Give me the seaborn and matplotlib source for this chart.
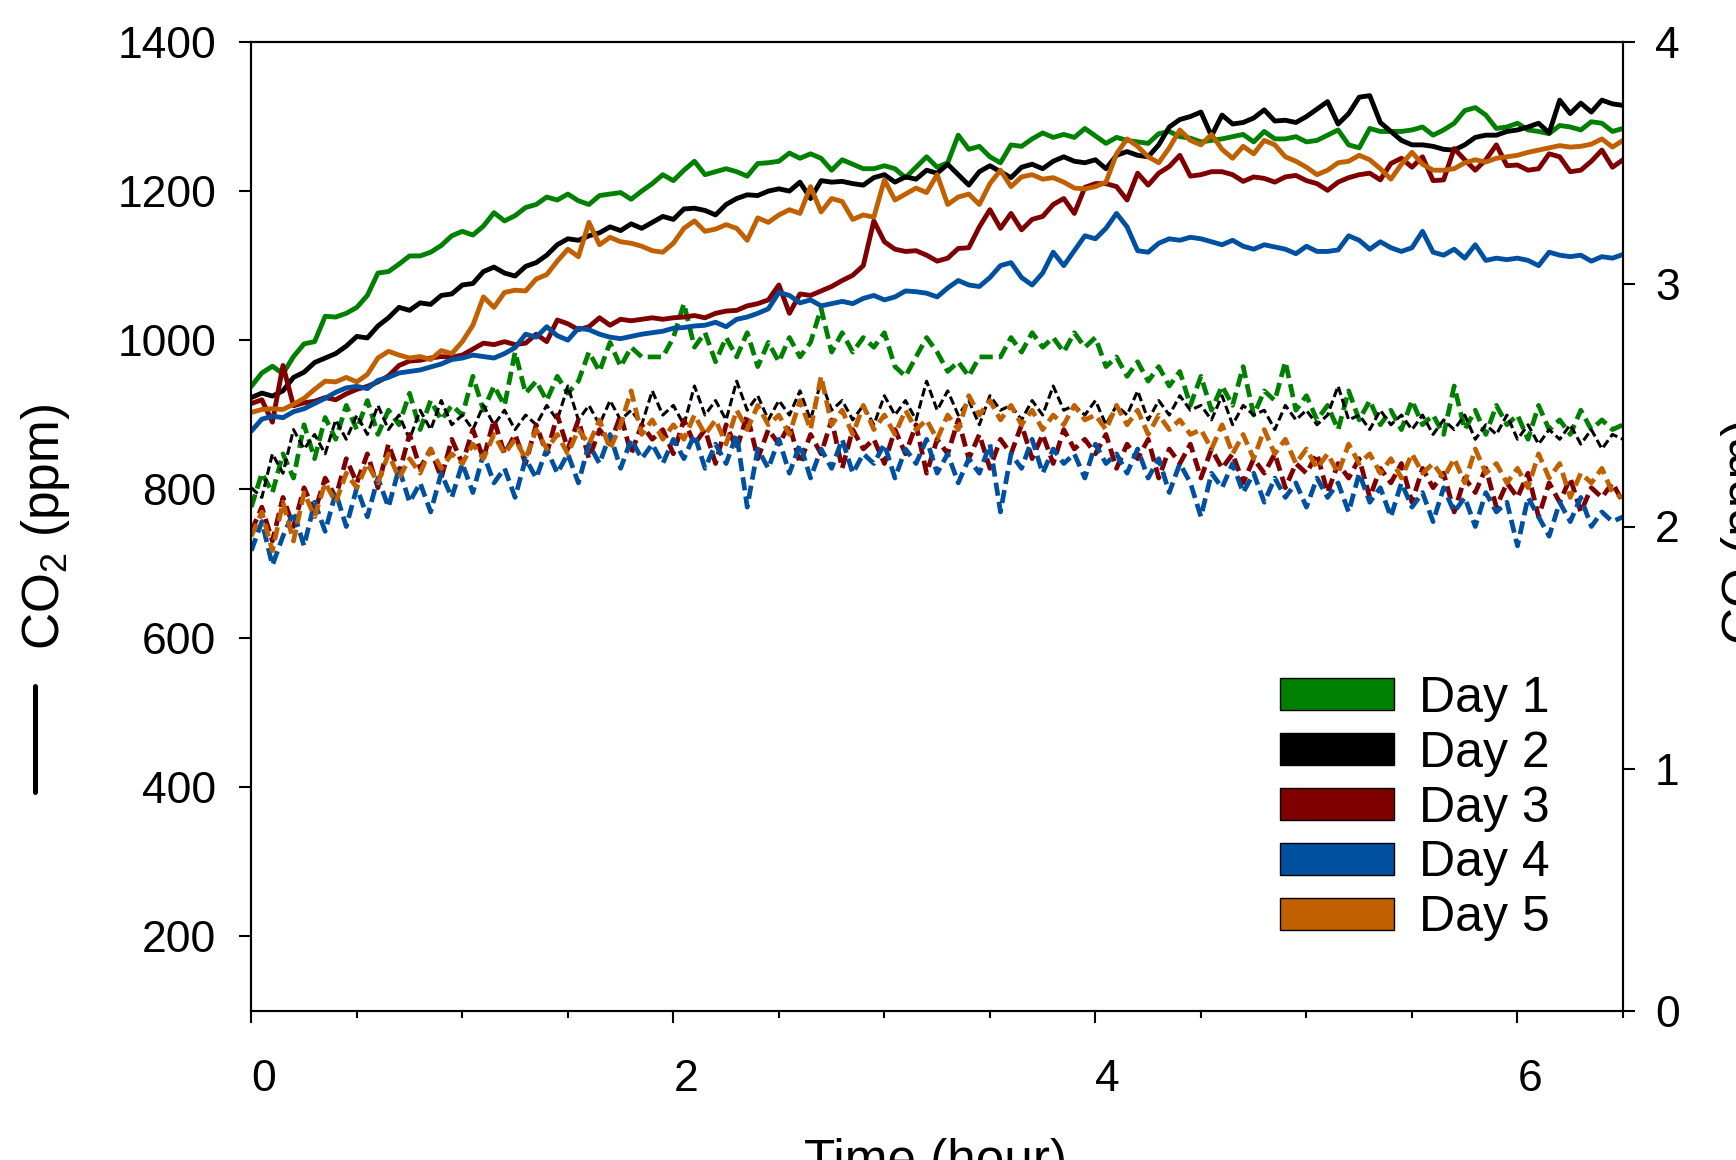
import numpy as np
import pandas as pd
import matplotlib
matplotlib.use("Agg")
import matplotlib.pyplot as plt
import seaborn as sns
from matplotlib.patches import Patch
from matplotlib.lines import Line2D

# ---------------------------------------------------------------- data
days = ["Day 1", "Day 2", "Day 3", "Day 4", "Day 5"]
day_colors = ["#008000", "#000000", "#7f0000", "#0050a0", "#c06000"]

# sampling times, every 3 minutes (hours)
hours = np.round(np.arange(131) * 0.05, 2)

# CO2 (ppm), left axis
co2_day1 = [938, 956, 965, 955, 978, 995, 998, 1032, 1031, 1036,
            1044, 1060, 1090, 1092, 1102, 1113, 1113, 1118, 1127, 1140,
            1146, 1141, 1153, 1171, 1160, 1167, 1178, 1182, 1192, 1188,
            1196, 1187, 1182, 1194, 1196, 1198, 1189, 1200, 1210, 1222,
            1214, 1228, 1240, 1222, 1226, 1230, 1226, 1220, 1237, 1238,
            1240, 1251, 1244, 1250, 1244, 1228, 1242, 1236, 1230, 1230,
            1234, 1230, 1218, 1232, 1246, 1232, 1238, 1275, 1256, 1260,
            1246, 1238, 1262, 1260, 1270, 1278, 1272, 1276, 1272, 1284,
            1274, 1264, 1272, 1268, 1266, 1264, 1277, 1280, 1273, 1271,
            1266, 1268, 1270, 1273, 1276, 1266, 1280, 1270, 1270, 1273,
            1266, 1268, 1275, 1282, 1262, 1258, 1284, 1280, 1280, 1280,
            1282, 1286, 1275, 1282, 1291, 1308, 1312, 1302, 1284, 1286,
            1291, 1282, 1280, 1277, 1288, 1286, 1282, 1293, 1291, 1280,
            1284]
co2_day2 = [923, 929, 925, 932, 950, 957, 970, 976, 982, 992,
            1005, 1003, 1019, 1030, 1044, 1040, 1050, 1048, 1060, 1062,
            1074, 1076, 1092, 1098, 1090, 1086, 1099, 1104, 1114, 1128,
            1136, 1134, 1140, 1144, 1152, 1147, 1156, 1150, 1158, 1166,
            1162, 1176, 1177, 1174, 1168, 1182, 1190, 1195, 1194, 1200,
            1203, 1200, 1212, 1190, 1214, 1212, 1213, 1210, 1208, 1218,
            1222, 1212, 1219, 1216, 1228, 1224, 1236, 1222, 1208, 1226,
            1234, 1226, 1218, 1232, 1236, 1230, 1240, 1246, 1240, 1238,
            1242, 1230, 1248, 1253, 1248, 1246, 1262, 1286, 1296, 1300,
            1306, 1274, 1302, 1290, 1292, 1298, 1309, 1294, 1295, 1292,
            1300, 1310, 1320, 1290, 1304, 1326, 1328, 1292, 1280, 1268,
            1262, 1262, 1260, 1256, 1255, 1262, 1272, 1275, 1275, 1280,
            1282, 1286, 1291, 1278, 1322, 1304, 1318, 1306, 1322, 1317,
            1315]
co2_day3 = [915, 920, 890, 966, 912, 916, 918, 923, 920, 928,
            934, 938, 944, 952, 966, 972, 973, 976, 978, 977,
            980, 988, 996, 994, 998, 994, 996, 1008, 998, 1027,
            1022, 1014, 1018, 1030, 1020, 1028, 1026, 1028, 1030, 1028,
            1030, 1031, 1033, 1030, 1036, 1039, 1040, 1046, 1049, 1054,
            1074, 1036, 1062, 1060, 1066, 1072, 1080, 1087, 1100, 1160,
            1132, 1122, 1119, 1120, 1114, 1106, 1110, 1123, 1124, 1152,
            1175, 1150, 1170, 1148, 1162, 1166, 1182, 1190, 1170, 1205,
            1210, 1210, 1206, 1188, 1224, 1208, 1224, 1233, 1248, 1220,
            1222, 1226, 1226, 1222, 1213, 1219, 1217, 1212, 1219, 1221,
            1214, 1210, 1201, 1212, 1218, 1222, 1224, 1215, 1237, 1244,
            1232, 1246, 1214, 1215, 1257, 1242, 1228, 1242, 1262, 1234,
            1235, 1228, 1230, 1250, 1246, 1226, 1228, 1240, 1255, 1232,
            1242]
co2_day4 = [878, 894, 898, 896, 904, 908, 915, 922, 930, 936,
            938, 935, 946, 950, 956, 958, 960, 964, 968, 974,
            976, 980, 978, 976, 982, 990, 1008, 1004, 1018, 1006,
            1000, 1016, 1014, 1008, 1004, 1002, 1005, 1008, 1010, 1012,
            1016, 1017, 1019, 1020, 1024, 1018, 1028, 1031, 1036, 1042,
            1064, 1060, 1050, 1054, 1046, 1049, 1052, 1049, 1056, 1060,
            1054, 1058, 1066, 1065, 1063, 1058, 1070, 1080, 1074, 1072,
            1084, 1100, 1104, 1084, 1074, 1090, 1118, 1100, 1120, 1140,
            1136, 1150, 1170, 1152, 1120, 1118, 1130, 1136, 1134, 1138,
            1136, 1132, 1128, 1134, 1126, 1122, 1128, 1125, 1122, 1116,
            1126, 1119, 1119, 1121, 1140, 1134, 1122, 1132, 1124, 1119,
            1124, 1146, 1118, 1114, 1122, 1110, 1128, 1107, 1110, 1108,
            1110, 1107, 1100, 1118, 1114, 1112, 1114, 1106, 1112, 1110,
            1115]
co2_day5 = [903, 907, 908, 907, 914, 922, 934, 945, 944, 950,
            944, 954, 976, 985, 980, 976, 978, 974, 986, 982,
            998, 1020, 1058, 1044, 1064, 1067, 1066, 1082, 1088, 1106,
            1122, 1112, 1158, 1128, 1138, 1132, 1130, 1126, 1120, 1118,
            1130, 1150, 1160, 1146, 1149, 1155, 1150, 1134, 1164, 1158,
            1168, 1175, 1170, 1206, 1172, 1190, 1186, 1162, 1168, 1165,
            1215, 1188, 1196, 1204, 1198, 1222, 1182, 1192, 1196, 1182,
            1210, 1228, 1206, 1219, 1222, 1216, 1218, 1212, 1204, 1203,
            1206, 1212, 1250, 1270, 1260, 1246, 1238, 1258, 1282, 1268,
            1262, 1276, 1256, 1244, 1260, 1250, 1268, 1262, 1246, 1240,
            1232, 1222, 1228, 1238, 1240, 1248, 1242, 1230, 1216, 1236,
            1252, 1236, 1228, 1228, 1230, 1238, 1242, 1239, 1244, 1246,
            1248, 1252, 1255, 1258, 1261, 1259, 1260, 1263, 1270, 1259,
            1268]

# CO (ppm), right axis
co_day1 = [2.08, 2.22, 2.14, 2.30, 2.20, 2.42, 2.28, 2.45, 2.36, 2.50,
           2.40, 2.52, 2.38, 2.48, 2.42, 2.55, 2.40, 2.52, 2.44, 2.50,
           2.46, 2.62, 2.48, 2.58, 2.50, 2.72, 2.55, 2.60, 2.52, 2.62,
           2.55, 2.60, 2.72, 2.64, 2.76, 2.66, 2.74, 2.70, 2.70, 2.70,
           2.78, 2.92, 2.74, 2.80, 2.68, 2.78, 2.70, 2.80, 2.66, 2.76,
           2.68, 2.78, 2.70, 2.76, 2.90, 2.72, 2.80, 2.72, 2.78, 2.74,
           2.80, 2.66, 2.62, 2.70, 2.78, 2.72, 2.64, 2.68, 2.62, 2.70,
           2.70, 2.70, 2.78, 2.72, 2.80, 2.74, 2.78, 2.72, 2.80, 2.74,
           2.78, 2.66, 2.70, 2.62, 2.68, 2.60, 2.66, 2.58, 2.64, 2.50,
           2.62, 2.48, 2.58, 2.50, 2.66, 2.46, 2.56, 2.52, 2.68, 2.48,
           2.54, 2.44, 2.50, 2.40, 2.56, 2.44, 2.52, 2.42, 2.48, 2.40,
           2.52, 2.42, 2.46, 2.38, 2.58, 2.40, 2.48, 2.38, 2.50, 2.42,
           2.46, 2.36, 2.50, 2.40, 2.44, 2.38, 2.48, 2.40, 2.44, 2.40,
           2.42]
co_day2 = [2.16, 2.12, 2.30, 2.22, 2.40, 2.32, 2.38, 2.30, 2.44, 2.36,
           2.46, 2.38, 2.50, 2.40, 2.46, 2.36, 2.48, 2.40, 2.52, 2.42,
           2.46, 2.40, 2.50, 2.42, 2.48, 2.40, 2.46, 2.42, 2.50, 2.44,
           2.58, 2.44, 2.50, 2.42, 2.52, 2.44, 2.48, 2.42, 2.56, 2.46,
           2.50, 2.42, 2.58, 2.46, 2.52, 2.44, 2.60, 2.48, 2.54, 2.44,
           2.52, 2.46, 2.56, 2.44, 2.60, 2.48, 2.52, 2.44, 2.50, 2.42,
           2.54, 2.46, 2.52, 2.44, 2.60, 2.48, 2.56, 2.46, 2.52, 2.42,
           2.54, 2.48, 2.50, 2.44, 2.52, 2.46, 2.58, 2.48, 2.50, 2.46,
           2.52, 2.42, 2.50, 2.46, 2.56, 2.44, 2.52, 2.46, 2.54, 2.48,
           2.50, 2.44, 2.54, 2.42, 2.50, 2.46, 2.48, 2.40, 2.50, 2.44,
           2.48, 2.42, 2.46, 2.58, 2.44, 2.46, 2.40, 2.48, 2.42, 2.46,
           2.40, 2.46, 2.38, 2.44, 2.40, 2.46, 2.36, 2.42, 2.38, 2.46,
           2.36, 2.42, 2.34, 2.40, 2.36, 2.42, 2.34, 2.40, 2.32, 2.38,
           2.36]
co_day3 = [1.98, 2.08, 1.94, 2.12, 2.00, 2.16, 2.06, 2.20, 2.12, 2.28,
           2.18, 2.30, 2.16, 2.34, 2.22, 2.38, 2.24, 2.32, 2.20, 2.36,
           2.26, 2.40, 2.28, 2.44, 2.30, 2.38, 2.26, 2.42, 2.30, 2.46,
           2.32, 2.44, 2.28, 2.40, 2.34, 2.46, 2.30, 2.42, 2.36, 2.40,
           2.30, 2.44, 2.34, 2.40, 2.26, 2.42, 2.32, 2.46, 2.28, 2.40,
           2.34, 2.42, 2.26, 2.38, 2.30, 2.44, 2.24, 2.40, 2.32, 2.36,
           2.26, 2.40, 2.30, 2.42, 2.22, 2.36, 2.30, 2.44, 2.28, 2.38,
           2.24, 2.36, 2.30, 2.42, 2.28, 2.38, 2.26, 2.40, 2.32, 2.36,
           2.30, 2.38, 2.24, 2.34, 2.28, 2.36, 2.20, 2.32, 2.26, 2.34,
           2.20, 2.32, 2.24, 2.30, 2.18, 2.28, 2.22, 2.30, 2.16, 2.26,
           2.22, 2.30, 2.14, 2.26, 2.20, 2.28, 2.12, 2.24, 2.18, 2.26,
           2.10, 2.24, 2.16, 2.22, 2.06, 2.20, 2.14, 2.24, 2.08, 2.18,
           2.12, 2.22, 2.04, 2.18, 2.10, 2.20, 2.06, 2.16, 2.12, 2.18,
           2.10]
co_day4 = [1.90, 2.02, 1.84, 1.96, 2.06, 1.92, 2.10, 1.98, 2.14, 2.00,
           2.16, 2.04, 2.20, 2.08, 2.24, 2.10, 2.18, 2.06, 2.22, 2.12,
           2.26, 2.14, 2.30, 2.18, 2.24, 2.12, 2.28, 2.20, 2.32, 2.22,
           2.30, 2.18, 2.34, 2.26, 2.38, 2.24, 2.36, 2.28, 2.34, 2.26,
           2.36, 2.28, 2.38, 2.24, 2.34, 2.26, 2.38, 2.08, 2.32, 2.24,
           2.36, 2.22, 2.34, 2.20, 2.32, 2.24, 2.36, 2.22, 2.30, 2.26,
           2.34, 2.20, 2.32, 2.26, 2.36, 2.22, 2.30, 2.18, 2.28, 2.22,
           2.34, 2.06, 2.30, 2.24, 2.36, 2.22, 2.32, 2.26, 2.30, 2.20,
           2.34, 2.26, 2.30, 2.22, 2.32, 2.20, 2.28, 2.14, 2.26, 2.18,
           2.04, 2.22, 2.16, 2.26, 2.14, 2.22, 2.10, 2.20, 2.12, 2.18,
           2.08, 2.20, 2.12, 2.18, 2.06, 2.22, 2.10, 2.16, 2.04, 2.18,
           2.08, 2.14, 2.02, 2.16, 2.06, 2.12, 2.00, 2.14, 2.06, 2.10,
           1.92, 2.12, 2.04, 1.96, 2.10, 2.02, 2.12, 2.00, 2.06, 2.02,
           2.04]
co_day5 = [1.96, 2.06, 1.90, 2.10, 1.94, 2.14, 2.04, 2.18, 2.10, 2.22,
           2.16, 2.26, 2.18, 2.30, 2.20, 2.28, 2.22, 2.32, 2.24, 2.30,
           2.26, 2.34, 2.28, 2.38, 2.30, 2.36, 2.28, 2.40, 2.32, 2.38,
           2.30, 2.40, 2.34, 2.44, 2.32, 2.42, 2.56, 2.38, 2.44, 2.36,
           2.42, 2.36, 2.46, 2.38, 2.44, 2.34, 2.48, 2.40, 2.50, 2.42,
           2.46, 2.38, 2.52, 2.40, 2.62, 2.42, 2.48, 2.38, 2.50, 2.40,
           2.46, 2.38, 2.48, 2.40, 2.44, 2.36, 2.46, 2.40, 2.54, 2.46,
           2.52, 2.44, 2.50, 2.42, 2.48, 2.40, 2.46, 2.42, 2.50, 2.44,
           2.46, 2.40, 2.50, 2.42, 2.48, 2.38, 2.46, 2.40, 2.44, 2.38,
           2.40, 2.32, 2.42, 2.30, 2.38, 2.28, 2.40, 2.30, 2.36, 2.26,
           2.32, 2.24, 2.30, 2.22, 2.34, 2.26, 2.30, 2.22, 2.28, 2.20,
           2.30, 2.22, 2.26, 2.20, 2.28, 2.18, 2.32, 2.22, 2.26, 2.18,
           2.24, 2.16, 2.30, 2.20, 2.26, 2.12, 2.22, 2.18, 2.24, 2.14,
           2.12]

co2_series = [co2_day1, co2_day2, co2_day3, co2_day4, co2_day5]
co_series = [co_day1, co_day2, co_day3, co_day4, co_day5]

co2_df = pd.concat([pd.DataFrame({"Time": hours, "CO2": v, "Day": d})
                    for d, v in zip(days, co2_series)], ignore_index=True)
co_df = pd.concat([pd.DataFrame({"Time": hours, "CO": v, "Day": d})
                   for d, v in zip(days, co_series)], ignore_index=True)

# ---------------------------------------------------------------- style
sns.set_style("ticks", {"axes.edgecolor": "black", "xtick.color": "black",
                        "ytick.color": "black", "text.color": "black",
                        "axes.labelcolor": "black"})
plt.rcParams["font.family"] = ["Liberation Sans", "DejaVu Sans"]
plt.rcParams["mathtext.fontset"] = "custom"
plt.rcParams["mathtext.rm"] = "Liberation Sans"
plt.rcParams["mathtext.it"] = "Liberation Sans:italic"
plt.rcParams["mathtext.bf"] = "Liberation Sans:bold"

W, H = 1736, 1160
fig = plt.figure(figsize=(W / 100, H / 100), dpi=100)
x0, x1, y0, y1 = 251.3, 1623.0, 42.0, 1011.0
ax = fig.add_axes([x0 / W, 1 - y1 / H, (x1 - x0) / W, (y1 - y0) / H])
ax2 = ax.twinx()

# dashed CO traces on the right axis
for d, c in zip(days, day_colors):
    lw = 2.2 if c == "#000000" else 3.4
    sns.lineplot(data=co_df[co_df["Day"] == d], x="Time", y="CO", color=c,
                 linewidth=lw, linestyle=(0, (2.8, 1.3)), estimator=None,
                 legend=False, ax=ax2)

# solid CO2 traces on the left axis
for d, c in zip(days, day_colors):
    sns.lineplot(data=co2_df[co2_df["Day"] == d], x="Time", y="CO2", color=c,
                 linewidth=3.5, estimator=None, legend=False, ax=ax)

ax.set_zorder(ax2.get_zorder() + 1)
ax.patch.set_visible(False)

ax.set_xlim(0, 6.5)
ax.set_ylim(100, 1400)
ax2.set_ylim(0, 4)
ax.set_xticks([0, 2, 4, 6])
ax.set_xticks(np.arange(0, 6.51, 0.5), minor=True)
ax.set_yticks(np.arange(200, 1401, 200))
ax2.set_yticks([0, 1, 2, 3, 4])
ax.set_xlabel("")
ax.set_ylabel("")
ax2.set_ylabel("")

for a in (ax, ax2):
    for s in a.spines.values():
        s.set_visible(True)
        s.set_linewidth(1.5)
        s.set_color("black")

ax.tick_params(axis="y", which="major", direction="out", length=8.6,
               width=1.5, labelsize=32, pad=16.5)
ax.tick_params(axis="x", which="major", direction="out", length=8.6,
               width=1.5, labelsize=32, pad=26)
ax.tick_params(axis="x", which="minor", direction="out", length=5,
               width=1.5)
ax2.tick_params(axis="y", which="major", direction="out", length=8.6,
                width=1.5, labelsize=32, pad=14.5)
plt.setp(ax.get_xticklabels(), ha="left")

# axis titles
fig.text(46 / W, 1 - 527 / H, "CO$_2$ (ppm)", rotation=90, ha="center",
         va="center", fontsize=37)
fig.add_artist(Line2D([35 / W, 35 / W], [1 - 686 / H, 1 - 792 / H],
                      color="black", lw=3.6, transform=fig.transFigure))
fig.text(1745 / W, 1 - 531 / H, "CO (ppm)", rotation=90, ha="center",
         va="center", fontsize=37)
fig.text(935 / W, 1 - 1138 / H, "Time (hour)", ha="center", va="top",
         fontsize=37)

# legend of days
handles = [Patch(facecolor=c, edgecolor="black", linewidth=1.0, label=d)
           for d, c in zip(days, day_colors)]
ax.legend(handles=handles, loc="center left",
          bbox_to_anchor=(1280 / W, 1 - 808.5 / H), bbox_transform=fig.transFigure,
          frameon=False, fontsize=36, handlelength=2.28, handleheight=0.62,
          handletextpad=0.5, labelspacing=0.178, borderpad=0, borderaxespad=0)

fig.savefig("out.png", dpi=100)
